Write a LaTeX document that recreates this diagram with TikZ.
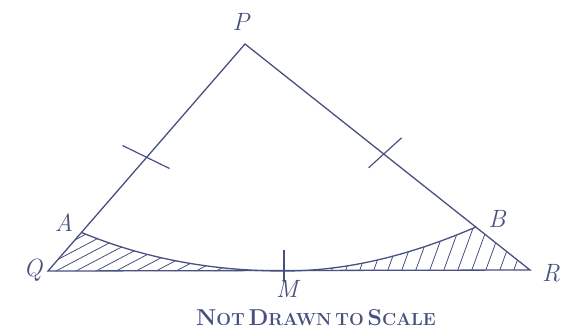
\documentclass[tikz,border=0pt]{standalone}
\usepackage{tikz}
\usetikzlibrary{calc}
\usepackage{xcolor}
\definecolor{ink}{RGB}{72,80,128}
\newcommand{\bigc}[1]{{\fontsize{23}{24}\selectfont #1}}
\newcommand{\smc}[1]{{\fontsize{17.5}{18}\selectfont #1}}

\begin{document}
\begin{tikzpicture}[x=1pt, y=-1pt,
  edge/.style={draw=ink, line width=1.3pt, line cap=round},
  hatch/.style={draw=ink, line width=0.8pt},
  tick/.style={draw=ink, line width=1.2pt},
  vlabel/.style={text=ink, font=\fontsize{25}{26}\selectfont\itshape, inner sep=0pt},
  caption/.style={text=ink, font=\bfseries, inner sep=0pt}]
  \useasboundingbox (0,0) rectangle (563,333);

  \coordinate (P) at (245,44);
  \coordinate (Q) at (48,271);
  \coordinate (R) at (530,270);
  \coordinate (M) at (284,271);
  \coordinate (A) at ($(P)!0.83!(Q)$);
  \coordinate (B) at ($(P)!0.81!(R)$);

  % shaded pieces
  \begin{scope}
    \clip (Q) -- (A) .. controls (150,261) and (220,271) .. (M) -- cycle;
    \foreach \x in {-40,-20,...,300}
      \draw[hatch] (\x,290) -- ++(110,-58);
  \end{scope}
  \begin{scope}
    \clip (M) .. controls (350,271) and (413,254) .. (B) -- (R) -- cycle;
    \foreach \x in {260,274,...,540}
      \draw[hatch] (\x,275) -- ++(20,-55);
  \end{scope}

  % triangle and arc
  \draw[edge] (Q) -- (P) -- (R) -- cycle;
  \draw[edge] (A) .. controls (150,261) and (220,271) .. (M)
              .. controls (350,271) and (413,254) .. (B);

  % equal marks
  \coordinate (t1) at ($(P)!0.5!(Q)$);
  \coordinate (t2) at ($(P)!0.49!(R)$);
  \draw[tick] (t1) ++(-24,-12) -- ++(47,23);
  \draw[tick] (t2) ++(-16,13) -- ++(33,-30);
  \draw[tick] (M) ++(0,-21) -- ++(0,32);

  \node[vlabel] (lP) at (241,22) {P};
  \node[vlabel] (lA) at (64,223) {A};
  \node[vlabel] (lQ) at (33,270) {Q};
  \node[vlabel] (lB) at (497,219) {B};
  \node[vlabel] (lM) at (287,289) {M};
  \node[vlabel] (lR) at (551,273) {R};
  \node[caption] (note) at (316,318)
    {\bigc{N}\smc{OT} \bigc{D}\smc{RAWN} \smc{TO} \bigc{S}\smc{CALE}};
\end{tikzpicture}
\end{document}
